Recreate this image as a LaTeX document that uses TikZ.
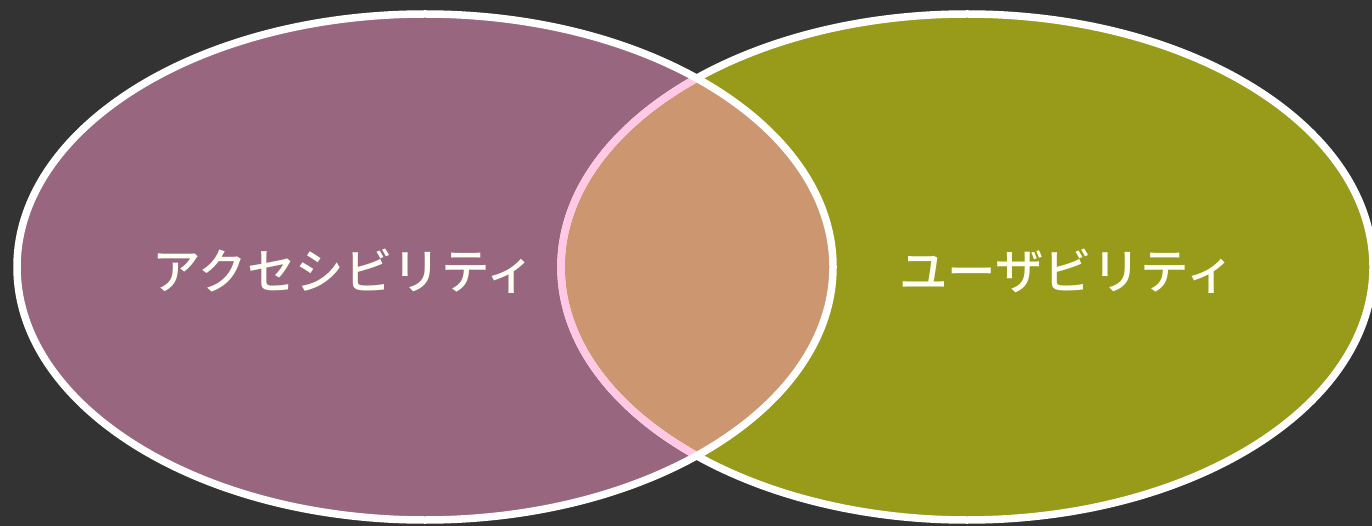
\documentclass[tikz,border=0pt]{standalone}
\usepackage{fontspec}
\newfontfamily\jpfont{Noto Sans CJK JP Medium}
\definecolor{bgc}{HTML}{333333}
\definecolor{leftc}{HTML}{98667E}
\definecolor{rightc}{HTML}{989A1A}
\definecolor{midc}{HTML}{CB9670}
\definecolor{pinkc}{HTML}{FFC8E4}
\definecolor{txtc}{HTML}{FFFFF4}
\tikzset{
  rim/.style={draw=white, line width=7.5pt},
  label/.style={text=txtc, font=\jpfont\fontsize{48.5pt}{48.5pt}\selectfont, inner sep=0pt}
}
\begin{document}
\begin{tikzpicture}[x=1pt,y=-1pt]
\fill[bgc] (0,0) rectangle (1372,526);
\useasboundingbox (0,0) rectangle (1372,526);
\coordinate (cl) at (425,267);
\coordinate (cr) at (967,267);
\fill[leftc] (cl) ellipse [x radius=408, y radius=253];
\fill[rightc] (cr) ellipse [x radius=406, y radius=253];
\begin{scope}
  \clip (cl) ellipse [x radius=408, y radius=253];
  \fill[midc] (cr) ellipse [x radius=406, y radius=253];
\end{scope}
\draw[rim] (cr) ellipse [x radius=406, y radius=253];
\begin{scope}
  \clip (cl) ellipse [x radius=408, y radius=253];
  \draw[rim, draw=pinkc] (cr) ellipse [x radius=406, y radius=253];
\end{scope}
\draw[rim] (cl) ellipse [x radius=408, y radius=253];
\node[label] (ta) at (344,271) {アクセシビリティ};
\node[label] (tu) at (1067,271) {ユーザビリティ};
\end{tikzpicture}
\end{document}
